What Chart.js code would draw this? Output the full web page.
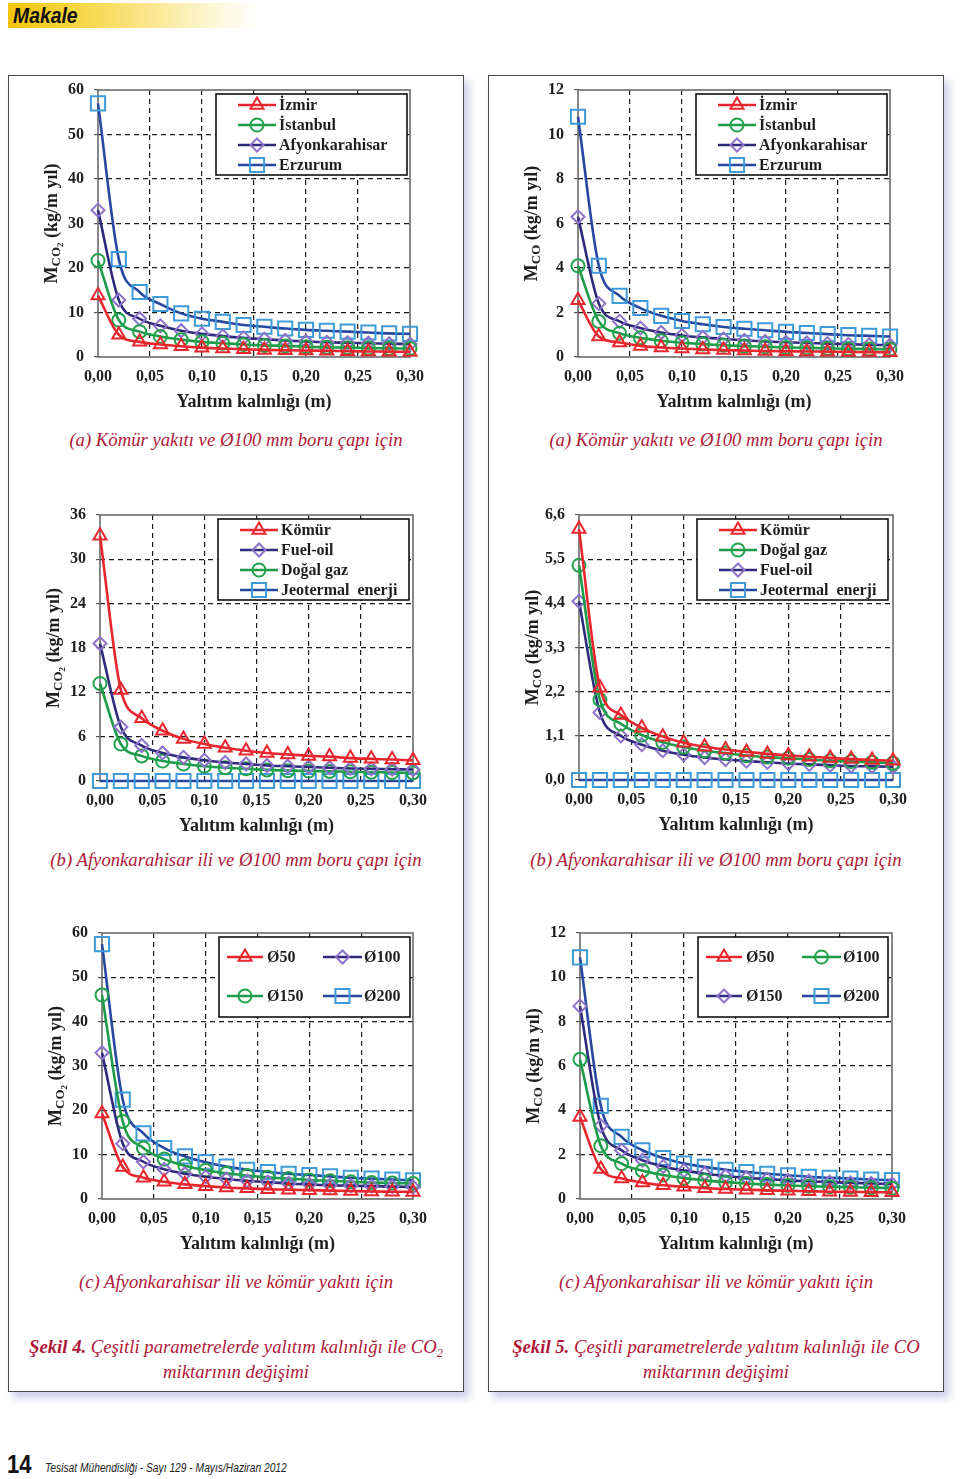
<!DOCTYPE html>
<html>
<head>
<meta charset="utf-8">
<script src="https://cdn.jsdelivr.net/npm/chart.js@4.4.1/dist/chart.umd.min.js"></script>
<style>
  html,body{margin:0;padding:0;background:#fff;}
  body{width:960px;height:1479px;position:relative;overflow:hidden;font-family:"Liberation Serif","Times New Roman",serif;}
  .hdr{position:absolute;left:8px;top:3px;width:250px;height:25px;
       background:linear-gradient(90deg,#f3c40f 0%,#f6d43c 25%,#fae58a 55%,#fdf5d0 80%,rgba(255,255,255,0) 100%);}
  .hdr span{position:absolute;left:5px;top:0px;font-family:"Liberation Sans",Arial,sans-serif;transform:scaleX(0.88);transform-origin:0 0;
       font-weight:bold;font-style:italic;font-size:22px;line-height:25px;color:#111;}
  .panel{position:absolute;top:75px;width:456px;height:1317px;box-sizing:border-box;border:1.5px solid #4a4a4a;background:#fff;
       box-shadow:5px 6px 8px rgba(175,180,220,0.65);}
  canvas.cv{position:absolute;}
  .cap{position:absolute;width:456px;text-align:center;color:#b0173a;font-style:italic;font-size:18.7px;line-height:22px;white-space:nowrap;}
  .fig{position:absolute;width:456px;text-align:center;color:#b0173a;font-style:italic;font-size:18.7px;line-height:25px;white-space:nowrap;}
  .fig b{font-weight:bold;}
  .fig sub{font-size:12.5px;vertical-align:-4px;line-height:0;}
  .pg{position:absolute;left:7px;top:1451px;font-family:"Liberation Sans",Arial,sans-serif;transform:scaleX(0.85);transform-origin:0 0;font-weight:bold;font-size:26px;line-height:26px;color:#111;}
  .ft{position:absolute;left:45px;top:1461px;font-family:"Liberation Sans",Arial,sans-serif;transform:scaleX(0.82);transform-origin:0 0;font-style:italic;font-size:12.5px;line-height:14px;color:#222;white-space:nowrap;}
</style>
</head>
<body>
<div class="hdr"><span>Makale</span></div>
<div class="panel" style="left:8px;"></div>
<div class="panel" style="left:488px;"></div>

<div class="cap" style="left:8px;top:429px;">(a) Kömür yakıtı ve Ø100 mm boru çapı için</div>
<div class="cap" style="left:488px;top:429px;">(a) Kömür yakıtı ve Ø100 mm boru çapı için</div>
<div class="cap" style="left:8px;top:849px;">(b) Afyonkarahisar ili ve Ø100 mm boru çapı için</div>
<div class="cap" style="left:488px;top:849px;">(b) Afyonkarahisar ili ve Ø100 mm boru çapı için</div>
<div class="cap" style="left:8px;top:1271px;">(c) Afyonkarahisar ili ve kömür yakıtı için</div>
<div class="cap" style="left:488px;top:1271px;">(c) Afyonkarahisar ili ve kömür yakıtı için</div>

<div class="fig" style="left:8px;top:1334px;"><b>Şekil 4.</b> Çeşitli parametrelerde yalıtım kalınlığı ile CO<sub>2</sub><br>miktarının değişimi</div>
<div class="fig" style="left:488px;top:1334px;"><b>Şekil 5.</b> Çeşitli parametrelerde yalıtım kalınlığı ile CO<br>miktarının değişimi</div>

<div class="pg">14</div>
<div class="ft">Tesisat Mühendisliği - Sayı 129 - Mayıs/Haziran 2012</div>

<script>
// ---------------- DATA ----------------
const thickness = [0.00,0.02,0.04,0.06,0.08,0.10,0.12,0.14,0.16,0.18,0.20,0.22,0.24,0.26,0.28,0.30];
const xTickValues = [0.00,0.05,0.10,0.15,0.20,0.25,0.30];

// Chart 1: CO2, coal, Ø100, by city
const co2Izmir     = [13.8,5.0,3.4,2.8,2.4,2.1,1.9,1.75,1.6,1.5,1.45,1.4,1.3,1.25,1.2,1.15];
const co2Istanbul  = [21.7,8.3,5.7,4.6,3.9,3.4,3.1,2.8,2.6,2.5,2.3,2.2,2.1,2.0,1.95,1.9];
const co2Afyon     = [33.0,12.8,8.6,7.0,5.9,5.2,4.7,4.3,4.0,3.7,3.5,3.3,3.2,3.1,3.0,2.9];
const co2Erzurum   = [57.0,22.0,14.6,11.9,9.8,8.6,7.9,7.2,6.8,6.4,6.1,5.9,5.7,5.5,5.3,5.2];
const yTicks1 = [0,10,20,30,40,50,60];

// Chart 2: CO, coal, Ø100, by city
const coIzmir      = [2.55,0.92,0.65,0.5,0.43,0.38,0.34,0.31,0.29,0.27,0.26,0.25,0.24,0.23,0.22,0.21];
const coIstanbul   = [4.1,1.6,1.07,0.86,0.73,0.64,0.58,0.53,0.49,0.46,0.43,0.41,0.39,0.37,0.36,0.35];
const coAfyon      = [6.3,2.4,1.6,1.3,1.1,0.97,0.88,0.81,0.75,0.7,0.66,0.63,0.6,0.57,0.55,0.53];
const coErzurum    = [10.8,4.1,2.75,2.2,1.85,1.62,1.47,1.35,1.27,1.2,1.13,1.08,1.03,0.98,0.95,0.92];
const yTicks2 = [0,2,4,6,8,10,12];

// Chart 3: CO2, Afyonkarahisar, Ø100, by fuel
const co2Komur     = [33.2,12.3,8.5,6.8,5.7,5.0,4.5,4.1,3.8,3.6,3.4,3.3,3.1,3.0,2.9,2.8];
const co2FuelOil   = [18.6,7.3,4.8,3.8,3.2,2.8,2.5,2.3,2.1,2.0,1.9,1.8,1.7,1.65,1.6,1.55];
const co2DogalGaz  = [13.2,5.0,3.4,2.7,2.3,2.0,1.8,1.65,1.5,1.4,1.35,1.3,1.25,1.2,1.15,1.1];
const co2Jeotermal = [0,0,0,0,0,0,0,0,0,0,0,0,0,0,0,0];
const yTicks3 = [0,6,12,18,24,30,36];

// Chart 4: CO, Afyonkarahisar, Ø100, by fuel
const coKomur      = [6.25,2.3,1.62,1.3,1.08,0.93,0.83,0.76,0.7,0.65,0.61,0.58,0.55,0.52,0.5,0.48];
const coDogalGaz   = [5.35,2.0,1.4,1.12,0.94,0.82,0.73,0.67,0.61,0.57,0.54,0.51,0.48,0.46,0.44,0.42];
const coFuelOil    = [4.45,1.68,1.1,0.88,0.73,0.63,0.56,0.51,0.47,0.44,0.41,0.39,0.37,0.35,0.34,0.33];
const coJeotermal  = [0,0,0,0,0,0,0,0,0,0,0,0,0,0,0,0];
const yTicks4 = [0,1.1,2.2,3.3,4.4,5.5,6.6];

// Chart 5: CO2, Afyonkarahisar, coal, by pipe diameter
const co2D50  = [19.3,7.2,4.8,3.9,3.3,2.9,2.6,2.4,2.2,2.1,2.0,1.9,1.8,1.7,1.65,1.6];
const co2D100 = [33.0,12.5,8.4,6.7,5.7,5.0,4.5,4.1,3.8,3.5,3.3,3.1,3.0,2.9,2.8,2.7];
const co2D150 = [46.0,17.5,11.5,9.0,7.5,6.5,5.8,5.3,4.9,4.6,4.3,4.1,3.9,3.7,3.6,3.5];
const co2D200 = [57.5,22.4,14.8,11.5,9.6,8.3,7.3,6.6,6.1,5.7,5.4,5.1,4.8,4.6,4.4,4.2];
const yTicks5 = [0,10,20,30,40,50,60];

// Chart 6: CO, Afyonkarahisar, coal, by pipe diameter
const coD50  = [3.7,1.35,0.92,0.74,0.62,0.55,0.49,0.45,0.42,0.39,0.37,0.35,0.33,0.32,0.31,0.3];
const coD100 = [6.3,2.4,1.6,1.28,1.08,0.94,0.84,0.76,0.7,0.65,0.61,0.58,0.55,0.53,0.51,0.49];
const coD150 = [8.7,3.3,2.2,1.75,1.47,1.28,1.14,1.04,0.96,0.9,0.84,0.8,0.76,0.73,0.7,0.67];
const coD200 = [10.9,4.2,2.8,2.2,1.85,1.6,1.45,1.32,1.22,1.14,1.07,1.0,0.96,0.92,0.88,0.85];
const yTicks6 = [0,2,4,6,8,10,12];

const xAxisTitle = 'Yalıtım kalınlığı (m)';

// ---------------- STYLES ----------------
const STY = {
  red:    {line:'#e8262d', mark:'#e8262d', pointStyle:'triangle', radius:7.5},
  green:  {line:'#1d9b49', mark:'#22a24c', pointStyle:'circle',   radius:6.5},
  purple: {line:'#2f2a7c', mark:'#8c72c8', pointStyle:'rectRot',  radius:6.5},
  blue:   {line:'#2648a0', mark:'#3d9bd9', pointStyle:'rect',     radius:10}
};
const FONT = '"Liberation Serif","Times New Roman",serif';
const TXT = '#1e1e1e';

function ds(label, data, s){
  const st = STY[s];
  return {
    label, data: thickness.map((x,i)=>({x, y:data[i]})),
    borderColor: st.line, borderWidth: 2.6,
    pointStyle: st.pointStyle, pointRadius: st.radius, pointBorderColor: st.mark,
    pointBackgroundColor: 'rgba(0,0,0,0)', pointBorderWidth: 2, pointHoverRadius: st.radius,
    cubicInterpolationMode: 'monotone', fill:false, clip:false, _sty: st
  };
}

// ---------------- PLUGINS ----------------
const framePlugin = {
  id:'frame',
  beforeDatasetsDraw(chart){
    const {ctx, chartArea:a} = chart;
    ctx.save(); ctx.strokeStyle='#6a6a6a'; ctx.lineWidth=1.6;
    ctx.strokeRect(a.left, a.top, a.right-a.left, a.bottom-a.top);
    ctx.restore();
  }
};
const richTitlePlugin = {
  id:'richTitle',
  afterDraw(chart, args, o){
    if(!o || !o.segments) return;
    const {ctx, chartArea:a} = chart;
    const cx = a.left + o.dx, cy = (a.top + a.bottom)/2;
    ctx.save();
    ctx.translate(cx, cy); ctx.rotate(-Math.PI/2);
    ctx.fillStyle = TXT; ctx.textBaseline = 'alphabetic'; ctx.textAlign='left';
    let total = 0;
    o.segments.forEach(s=>{ ctx.font = `bold ${s.size}px ${FONT}`; s._w = ctx.measureText(s.t).width; total += s._w; });
    let x = -total/2;
    o.segments.forEach(s=>{ ctx.font = `bold ${s.size}px ${FONT}`; ctx.fillText(s.t, x, 6 + (s.dy||0)); x += s._w; });
    ctx.restore();
  }
};
function drawMarker(ctx, st, x, y){
  ctx.save();
  ctx.strokeStyle = st.mark; ctx.fillStyle='rgba(0,0,0,0)'; ctx.lineWidth = 2;
  if (Chart.helpers && Chart.helpers.drawPoint) {
    Chart.helpers.drawPoint(ctx, {pointStyle: st.pointStyle, rotation:0, radius: st.radius, borderWidth:2}, x, y);
  }
  ctx.restore();
}
const boxLegendPlugin = {
  id:'boxLegend',
  afterDatasetsDraw(chart, args, o){
    if(!o || !o.box) return;
    const {ctx, chartArea:a} = chart;
    const [bl, bt, bw, bh] = o.box;
    const L = a.left + bl, T = a.top + bt;
    ctx.save();
    ctx.fillStyle = '#fff'; ctx.fillRect(L, T, bw, bh);
    ctx.strokeStyle = '#111'; ctx.lineWidth = 1.6; ctx.strokeRect(L, T, bw, bh);
    ctx.font = `bold 16px ${FONT}`; ctx.textBaseline='middle'; ctx.textAlign='left';
    chart.data.datasets.forEach((d, i)=>{
      const p = o.items[i];
      const y = T + p[0], x1 = L + p[1], x2 = L + p[2], tx = L + p[3];
      const st = d._sty;
      ctx.strokeStyle = st.line; ctx.lineWidth = 2.6;
      ctx.beginPath(); ctx.moveTo(x1, y); ctx.lineTo(x2, y); ctx.stroke();
      drawMarker(ctx, st, (x1+x2)/2, y);
      ctx.fillStyle = TXT; ctx.fillText(d.label, tx, y+1);
    });
    ctx.restore();
  }
};

// ---------------- CHART FACTORY ----------------
const PADL = 70, PADT = 24, PADR = 24, PADB = 64;
function makeChart(plot, datasets, yTicks, yMax, yFmt, titleSegs, legend){
  const [l,t,r,b] = plot;
  const cv = document.createElement('canvas');
  cv.className = 'cv';
  const W = (r-l) + PADL + PADR, H = (b-t) + PADT + PADB;
  cv.width = W; cv.height = H;
  cv.style.left = (l-PADL)+'px'; cv.style.top = (t-PADT)+'px';
  cv.style.width = W+'px'; cv.style.height = H+'px';
  document.body.appendChild(cv);
  const lastX = xTickValues.length-1, lastY = yTicks.length-1;
  return new Chart(cv, {
    type:'line',
    data:{datasets},
    options:{
      responsive:false, animation:false, devicePixelRatio:1,
      layout:{padding:{left:0, top:PADT, right:PADR, bottom:0}},
      events:[],
      scales:{
        x:{
          type:'linear', min:0, max:0.30,
          afterBuildTicks(s){ s.ticks = xTickValues.map(v=>({value:v})); },
          afterFit(s){ s.height = PADB; },
          ticks:{ color:TXT, font:{family:FONT, size:16, weight:'bold'}, padding:10, maxRotation:0, autoSkip:false,
                  callback:(v)=>Number(v).toFixed(2).replace('.',',') },
          grid:{ color:(c)=> (c.index===0||c.index===lastX)?'rgba(0,0,0,0)':'#1a1a1a', lineWidth:1.2, drawTicks:false },
          border:{ display:false, dash:[5,4] },
          title:{ display:true, text:xAxisTitle, color:TXT, font:{family:FONT, size:18, weight:'bold'}, padding:{top:0,bottom:8} }
        },
        y:{
          type:'linear', min:0, max:yMax,
          afterBuildTicks(s){ s.ticks = yTicks.map(v=>({value:v})); },
          afterFit(s){ s.width = PADL; },
          ticks:{ color:TXT, font:{family:FONT, size:16, weight:'bold'}, padding:10, autoSkip:false,
                  callback:(v)=>yFmt(v) },
          grid:{ color:(c)=> (c.index===0||c.index===lastY)?'rgba(0,0,0,0)':'#1a1a1a', lineWidth:1.2,
                 drawTicks:true, tickLength:4, tickColor:'#555', tickWidth:1.2 },
          border:{ display:false, dash:[5,4] }
        }
      },
      plugins:{
        legend:{display:false}, tooltip:{enabled:false},
        richTitle:{segments:titleSegs, dx:-47},
        boxLegend:legend
      }
    },
    plugins:[framePlugin, richTitlePlugin, boxLegendPlugin]
  });
}

const fmtInt = v => String(Math.round(v));
const fmt1 = v => Number(v).toFixed(1).replace('.',',');
const titleCO2 = [{t:'M',size:18},{t:'CO',size:13,dy:3},{t:'2',size:9,dy:6},{t:' (kg/m yıl)',size:18}];
const titleCO  = [{t:'M',size:18},{t:'CO',size:13,dy:3},{t:' (kg/m yıl)',size:18}];

const leg1 = {box:[118,4,191,81], items:[[11,22,60,63],[31,22,60,63],[51,22,60,63],[71,22,60,63]]};
const leg2 = {box:[117,4,191,80], items:[[20,8,44,48],[20,104,143,145],[59,8,44,48],[59,104,143,145]]};

makeChart([98,90,410,357],
  [ds('İzmir',co2Izmir,'red'), ds('İstanbul',co2Istanbul,'green'), ds('Afyonkarahisar',co2Afyon,'purple'), ds('Erzurum',co2Erzurum,'blue')],
  yTicks1, 60, fmtInt, titleCO2, leg1);
makeChart([578,90,890,357],
  [ds('İzmir',coIzmir,'red'), ds('İstanbul',coIstanbul,'green'), ds('Afyonkarahisar',coAfyon,'purple'), ds('Erzurum',coErzurum,'blue')],
  yTicks2, 12, fmtInt, titleCO, leg1);
makeChart([100,515,413,781],
  [ds('Kömür',co2Komur,'red'), ds('Fuel-oil',co2FuelOil,'purple'), ds('Doğal gaz',co2DogalGaz,'green'), ds('Jeotermal  enerji',co2Jeotermal,'blue')],
  yTicks3, 36, fmtInt, titleCO2, leg1);
makeChart([579,515,893,780],
  [ds('Kömür',coKomur,'red'), ds('Doğal gaz',coDogalGaz,'green'), ds('Fuel-oil',coFuelOil,'purple'), ds('Jeotermal  enerji',coJeotermal,'blue')],
  yTicks4, 6.6, fmt1, titleCO, leg1);
makeChart([102,933,413,1199],
  [ds('Ø50',co2D50,'red'), ds('Ø100',co2D100,'purple'), ds('Ø150',co2D150,'green'), ds('Ø200',co2D200,'blue')],
  yTicks5, 60, fmtInt, titleCO2, leg2);
makeChart([580,933,892,1199],
  [ds('Ø50',coD50,'red'), ds('Ø100',coD100,'green'), ds('Ø150',coD150,'purple'), ds('Ø200',coD200,'blue')],
  yTicks6, 12, fmtInt, titleCO, {box:[118,4,190,80], items:leg2.items});
</script>
</body>
</html>
